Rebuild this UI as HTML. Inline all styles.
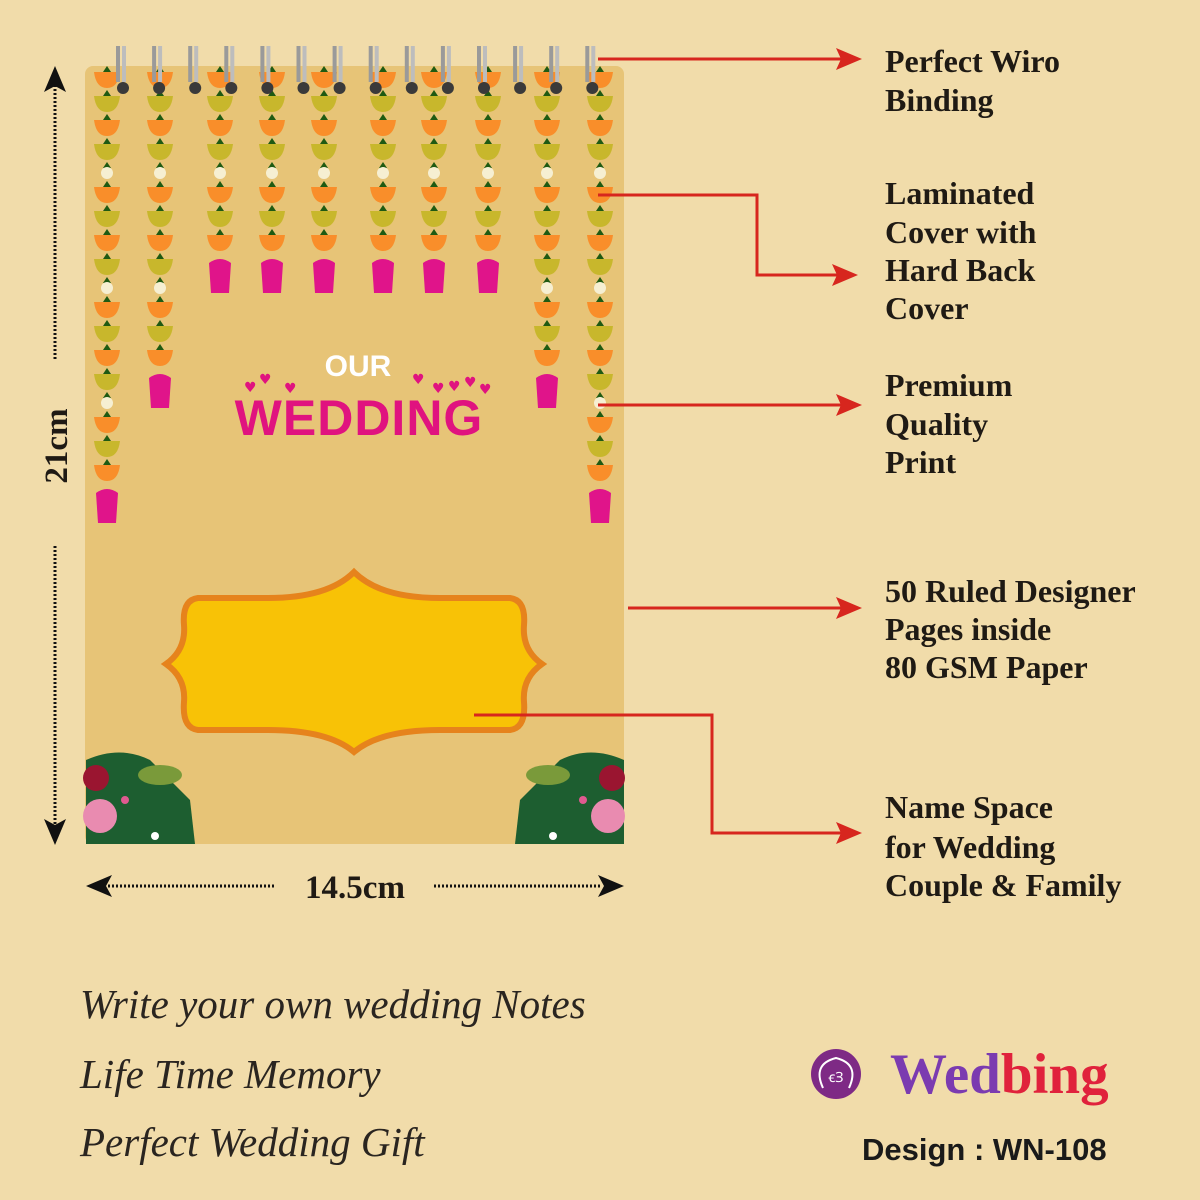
<!DOCTYPE html>
<html><head><meta charset="utf-8"><style>
html,body{margin:0;padding:0;background:#f1dcaa;}
svg{display:block}
.lbl{font-family:"Liberation Serif",serif;font-weight:bold;font-size:32px;fill:#1f1a14}
.scr{font-family:"Liberation Serif",serif;font-style:italic;font-size:41px;fill:#2a2520}
</style></head><body>
<svg id="s" width="1200" height="1200" viewBox="0 0 1200 1200" xmlns="http://www.w3.org/2000/svg">
<rect width="1200" height="1200" fill="#f1dcaa"/>
<rect x="85" y="66" width="539" height="778" rx="8" fill="#e7c477"/>
<g id="garl"></g>
<g id="rings"></g>
<text x="358" y="376" text-anchor="middle" font-family="Liberation Sans,sans-serif" font-weight="bold" font-size="30" fill="#fff">OUR</text>
<text x="359" y="435" text-anchor="middle" font-family="Liberation Sans,sans-serif" font-weight="bold" font-size="50" fill="#e0137f" letter-spacing="1">WEDDING</text>
<g fill="#e0137f" font-size="14" font-family="DejaVu Sans,sans-serif">
<text x="244" y="392">♥</text><text x="259" y="384">♥</text><text x="284" y="393">♥</text>
<text x="412" y="384">♥</text><text x="432" y="393">♥</text><text x="448" y="391">♥</text><text x="464" y="387">♥</text><text x="479" y="394">♥</text>
</g>
<path d="M354,572 Q380,598 440,598 L510,598 Q526,600 524,625 Q522,650 542,664 Q522,678 524,702 Q526,728 510,730 L440,730 Q380,730 354,752 Q328,730 268,730 L198,730 Q182,728 184,702 Q186,678 166,664 Q186,650 184,625 Q182,600 198,598 L268,598 Q328,598 354,572 Z" fill="#f8c206" stroke="#e6831c" stroke-width="6"/>
<g>
<path d="M86,760 Q120,745 150,760 L190,800 L195,844 L86,844Z" fill="#1d5e30"/>
<ellipse cx="160" cy="775" rx="22" ry="10" fill="#7a9a3a"/>
<circle cx="96" cy="778" r="13" fill="#9a1530"/>
<circle cx="100" cy="816" r="17" fill="#e98bb0"/>
<circle cx="125" cy="800" r="4" fill="#e05a90"/><circle cx="155" cy="836" r="4" fill="#fff"/>
<path d="M624,760 Q590,745 560,760 L520,800 L515,844 L624,844Z" fill="#1d5e30"/>
<ellipse cx="548" cy="775" rx="22" ry="10" fill="#7a9a3a"/>
<circle cx="612" cy="778" r="13" fill="#9a1530"/>
<circle cx="608" cy="816" r="17" fill="#e98bb0"/>
<circle cx="583" cy="800" r="4" fill="#e05a90"/><circle cx="553" cy="836" r="4" fill="#fff"/>
</g>
<g stroke="#111" stroke-width="3" stroke-dasharray="2,2">
<line x1="55" y1="85" x2="55" y2="360"/><line x1="55" y1="546" x2="55" y2="825"/>
<line x1="108" y1="886" x2="276" y2="886"/><line x1="434" y1="886" x2="602" y2="886"/>
</g>
<g fill="#111">
<path d="M55,66 L44,92 L55,86 L66,92Z"/><path d="M55,845 L44,819 L55,825 L66,819Z"/>
<path d="M86,886 L112,875 L106,886 L112,897Z"/><path d="M624,886 L598,875 L604,886 L598,897Z"/>
</g>
<text transform="translate(67,446) rotate(-90)" text-anchor="middle" class="lbl" style="font-size:33px">21cm</text>
<text x="355" y="898" text-anchor="middle" class="lbl" style="font-size:33px">14.5cm</text>
<g stroke="#d7261e" stroke-width="3" fill="none">
<line x1="598" y1="59" x2="845" y2="59"/>
<polyline points="598,195 757,195 757,275 840,275"/>
<line x1="598" y1="405" x2="845" y2="405"/>
<line x1="628" y1="608" x2="845" y2="608"/>
<polyline points="474,715 712,715 712,833 845,833"/>
</g>
<g fill="#d7261e">
<path d="M862,59 L836,48 L841,59 L836,70Z"/><path d="M858,275 L832,264 L837,275 L832,286Z"/>
<path d="M862,405 L836,394 L841,405 L836,416Z"/><path d="M862,608 L836,597 L841,608 L836,619Z"/>
<path d="M862,833 L836,822 L841,833 L836,844Z"/>
</g>
<text class="lbl"><tspan x="885" y="72">Perfect Wiro</tspan><tspan x="885" y="111">Binding</tspan></text>
<text class="lbl"><tspan x="885" y="204">Laminated</tspan><tspan x="885" y="243">Cover with</tspan><tspan x="885" y="281">Hard Back</tspan><tspan x="885" y="319">Cover</tspan></text>
<text class="lbl"><tspan x="885" y="396">Premium</tspan><tspan x="885" y="435">Quality</tspan><tspan x="885" y="473">Print</tspan></text>
<text class="lbl"><tspan x="885" y="602">50 Ruled Designer</tspan><tspan x="885" y="640">Pages inside</tspan><tspan x="885" y="678">80 GSM Paper</tspan></text>
<text class="lbl"><tspan x="885" y="818">Name Space</tspan><tspan x="885" y="858">for Wedding</tspan><tspan x="885" y="896">Couple &amp; Family</tspan></text>
<text class="scr" x="80" y="1018">Write your own wedding Notes</text>
<text class="scr" x="80" y="1088">Life Time Memory</text>
<text class="scr" x="80" y="1156">Perfect Wedding Gift</text>
<circle cx="836" cy="1074" r="25" fill="#7e2a85"/>
<path d="M823,1088 Q812,1064 836,1058 Q860,1064 849,1088" fill="none" stroke="#fff" stroke-width="2"/>
<text x="836" y="1082" text-anchor="middle" font-size="14" fill="#fff" font-family="Liberation Serif,serif">ꞓꞫ</text>
<text x="890" y="1093" font-family="Liberation Serif,serif" font-weight="bold" font-size="57" fill="#7b3bb0">Wed<tspan fill="#e0223c">bing</tspan></text>
<text x="862" y="1160" font-family="Liberation Sans,sans-serif" font-weight="bold" font-size="31" fill="#1a1a1a">Design : WN-108</text>
</svg>
<script>
var NS="http://www.w3.org/2000/svg",g=document.getElementById('garl'),r=document.getElementById('rings');
function el(t,a,p){var e=document.createElementNS(NS,t);for(var k in a)e.setAttribute(k,a[k]);p.appendChild(e);return e;}
var cols=[[107,490],[160,380],[220,262],[272,262],[324,262],[383,262],[434,262],[488,262],[547,380],[600,490]];
cols.forEach(function(c){var x=c[0],end=c[1],y=80,i=0;
 while(y<end){var k=i%5;
  el('path',{d:'M'+(x-4)+','+(y-8)+' L'+x+','+(y-14)+' L'+(x+4)+','+(y-8)+'Z',fill:'#1f5a12'},g);
  if(k==4){el('circle',{cx:x,cy:y-3,r:6,fill:'#f6efd2'},g);y+=19;}
  else{el('path',{d:'M'+(x-13)+','+(y-8)+' L'+(x+13)+','+(y-8)+' Q'+(x+11)+','+(y+8)+' '+x+','+(y+8)+' Q'+(x-11)+','+(y+8)+' '+(x-13)+','+(y-8)+'Z',fill:(k%2==0?'#f98e2a':'#c8b72c')},g);y+=24;}
  i++;}
 el('path',{d:'M'+(x-11)+','+(y-4)+' Q'+x+','+(y-12)+' '+(x+11)+','+(y-4)+' L'+(x+9)+','+(y+26)+' L'+(x-9)+','+(y+26)+'Z',fill:'#e0148a'},g);
});
for(var j=0;j<14;j++){var x=123+j*36.1;
 el('rect',{x:x-7,y:46,width:4,height:36,fill:'#9a9a9a'},r);
 el('rect',{x:x-1,y:46,width:4,height:36,fill:'#bdbdbd'},r);
 el('circle',{cx:x,cy:88,r:6,fill:'#3a3a3a'},r);}
</script>
</body></html>
